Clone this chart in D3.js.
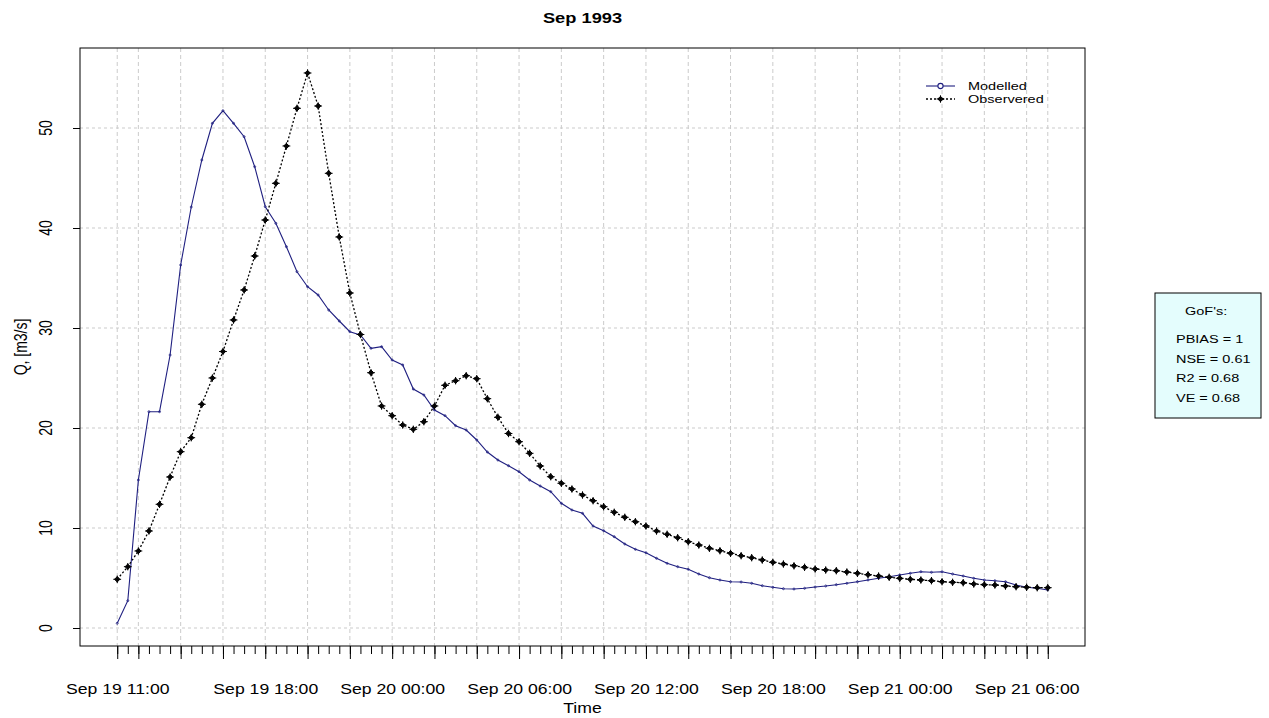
<!DOCTYPE html>
<html>
<head>
<meta charset="utf-8">
<script src="https://cdn.jsdelivr.net/npm/d3@7"></script>
<style>
  html, body { margin: 0; padding: 0; background: #fff; }
  svg { display: block; }
  text { font-family: "Liberation Sans", Arial, Helvetica, sans-serif; fill: #000; }
</style>
</head>
<body>
<svg id="chart" width="1269" height="718"></svg>
<script>
// ---------------- data ----------------
const chartTitle = "Sep 1993";
const seriesNames = ["Modelled", "Observered"];
const startTime = "1993-09-19T11:00";
const stepMinutes = 30;

const modelled = [
  0.47, 2.73, 14.8, 21.63, 21.63, 27.3, 36.3, 42.1, 46.8, 50.47,
  51.73, 50.47, 49.13, 46.13, 42.13, 40.47, 38.13, 35.63, 34.13, 33.3,
  31.8, 30.7, 29.63, 29.3, 27.97, 28.13, 26.8, 26.3, 23.9, 23.3,
  21.8, 21.23, 20.23, 19.8, 18.8, 17.6, 16.8, 16.23, 15.63, 14.8,
  14.2, 13.63, 12.47, 11.8, 11.47, 10.2, 9.73, 9.13, 8.4, 7.87,
  7.53, 6.97, 6.47, 6.13, 5.87, 5.4, 5.03, 4.8, 4.63, 4.6,
  4.47, 4.23, 4.07, 3.93, 3.9, 3.97, 4.1, 4.2, 4.33, 4.47,
  4.63, 4.8, 4.97, 5.13, 5.3, 5.47, 5.63, 5.57, 5.63, 5.4,
  5.2, 4.97, 4.8, 4.73, 4.63, 4.3, 4.07, 3.97, 3.8
];

const observed = [
  4.87, 6.13, 7.7, 9.7, 12.37, 15.1, 17.63, 19.03, 22.37, 25.0,
  27.65, 30.8, 33.8, 37.2, 40.8, 44.47, 48.2, 51.97, 55.5, 52.2,
  45.47, 39.1, 33.5, 29.35, 25.53, 22.2, 21.23, 20.3, 19.87, 20.63,
  22.2, 24.27, 24.73, 25.23, 24.93, 22.93, 21.07, 19.45, 18.63, 17.47,
  16.2, 15.13, 14.47, 13.9, 13.3, 12.73, 12.13, 11.57, 11.07, 10.63,
  10.2, 9.7, 9.37, 9.03, 8.63, 8.3, 7.97, 7.73, 7.47, 7.23,
  7.03, 6.8, 6.57, 6.4, 6.22, 6.07, 5.9, 5.8, 5.73, 5.6,
  5.47, 5.33, 5.2, 5.07, 4.97, 4.87, 4.8, 4.73, 4.63, 4.57,
  4.53, 4.4, 4.33, 4.3, 4.2, 4.13, 4.07, 4.03, 4.03
];

const yTicks = [0, 10, 20, 30, 40, 50];
const xLabelTicks = [
  "1993-09-19T11:00", "1993-09-19T18:00", "1993-09-20T00:00", "1993-09-20T06:00",
  "1993-09-20T12:00", "1993-09-20T18:00", "1993-09-21T00:00", "1993-09-21T06:00"
];
const gofLabels = ["PBIAS = 1", "NSE = 0.61", "R2 = 0.68", "VE = 0.68"];

// ---------------- layout ----------------
const SX = 1.26; // horizontal stretch of glyphs, as in the reference image
const M = { left: 80, right: 1085, top: 48, bottom: 646 };
const parse = d3.utcParse("%Y-%m-%dT%H:%M");
const fmt = d3.utcFormat("%b %d %H:%M");

const t0 = parse(startTime);
const times = observed.map((_, i) => d3.utcMinute.offset(t0, i * stepMinutes));
const tEnd = times[times.length - 1];
const spanMs = tEnd - t0;
const padMs = spanMs * 0.04;

const x = d3.scaleUtc()
  .domain([new Date(+t0 - padMs), new Date(+tEnd + padMs)])
  .range([M.left, M.right]);
const y = d3.scaleLinear().domain([-1.8, 58]).range([M.bottom, M.top]);

const svg = d3.select("#chart");
svg.append("rect").attr("width", 1269).attr("height", 718).attr("fill", "#fff");

function stext(parent, px, py, str, o = {}) {
  const tr = `translate(${px},${py}) scale(${SX},1)` + (o.rotate ? ` rotate(${o.rotate})` : "");
  return parent.append("text")
    .attr("transform", tr)
    .attr("font-size", o.size || 14)
    .attr("font-weight", o.weight || "normal")
    .attr("text-anchor", o.anchor || "middle")
    .attr("dy", "0.35em")
    .text(str);
}

// major ticks: start, every 2h, end
const majorTicks = [t0]
  .concat(d3.utcHour.every(2).range(d3.utcHour.offset(t0, 1), tEnd))
  .concat([tEnd]);

// ---------------- grid ----------------
const grid = svg.append("g");
grid.selectAll("line.v").data(majorTicks).join("line")
  .attr("x1", d => x(d)).attr("x2", d => x(d))
  .attr("y1", M.top).attr("y2", M.bottom)
  .attr("stroke", "#cbcbcb").attr("stroke-width", 1).attr("stroke-dasharray", "4,3");
grid.selectAll("line.h").data(yTicks).join("line")
  .attr("x1", M.left).attr("x2", M.right)
  .attr("y1", d => y(d)).attr("y2", d => y(d))
  .attr("stroke", "#cbcbcb").attr("stroke-width", 1).attr("stroke-dasharray", "3,3");

// ---------------- axes ----------------
const xMinor = svg.append("g").attr("transform", `translate(0,${M.bottom})`)
  .call(d3.axisBottom(x).tickValues(times).tickSize(8).tickFormat(""));
const labelSet = new Set(xLabelTicks.map(s => +parse(s)));
const xMajor = svg.append("g").attr("transform", `translate(0,${M.bottom})`)
  .call(d3.axisBottom(x).tickValues(majorTicks).tickSize(13)
    .tickFormat(d => labelSet.has(+d) ? fmt(d) : ""));
[xMinor, xMajor].forEach(g => {
  g.select(".domain").remove();
  g.selectAll(".tick line").attr("stroke", "#000");
});
xMajor.selectAll(".tick text")
  .attr("font-size", 14)
  .attr("font-family", "Liberation Sans, Arial, sans-serif")
  .attr("y", 0).attr("dy", "0.35em")
  .attr("transform", `translate(0,43) scale(${SX},1)`);

// y axis ticks
const yAx = svg.append("g").attr("transform", `translate(${M.left},0)`)
  .call(d3.axisLeft(y).tickValues(yTicks).tickSize(7).tickFormat(""));
yAx.select(".domain").remove();
yAx.selectAll(".tick line").attr("stroke", "#000");
yTicks.forEach(v => stext(svg, 46, y(v), String(v), { size: 14, rotate: -90 }));

// box
svg.append("rect")
  .attr("x", M.left).attr("y", M.top)
  .attr("width", M.right - M.left).attr("height", M.bottom - M.top)
  .attr("fill", "none").attr("stroke", "#000").attr("stroke-width", 1);

// titles
stext(svg, (M.left + M.right) / 2, 18, chartTitle, { size: 14.5, weight: "bold" });
stext(svg, (M.left + M.right) / 2, 708, "Time", { size: 14 });
stext(svg, 21, (M.top + M.bottom) / 2, "Q, [m3/s]", { size: 14, rotate: -90 });

// ---------------- series ----------------
const modColor = "#1f1f80";
const line = d3.line().x((d, i) => x(times[i])).y(d => y(d));

svg.append("path").datum(modelled)
  .attr("d", line).attr("fill", "none")
  .attr("stroke", modColor).attr("stroke-width", 1.1);
svg.append("g").selectAll("circle").data(modelled).join("circle")
  .attr("cx", (d, i) => x(times[i])).attr("cy", d => y(d)).attr("r", 1)
  .attr("fill", "none").attr("stroke", modColor).attr("stroke-width", 0.8);

svg.append("path").datum(observed)
  .attr("d", line).attr("fill", "none")
  .attr("stroke", "#000").attr("stroke-width", 1.3).attr("stroke-dasharray", "2,2");

const diamondPlus = "M0,-2.7L2.7,0L0,2.7L-2.7,0Z M-3.9,0H3.9 M0,-3.7V3.7";
svg.append("g").selectAll("path").data(observed).join("path")
  .attr("transform", (d, i) => `translate(${x(times[i])},${y(d)})`)
  .attr("d", diamondPlus)
  .attr("fill", "#111").attr("stroke", "#000").attr("stroke-width", 1);

// ---------------- legend ----------------
const lg = svg.append("g");
lg.append("line").attr("x1", 926).attr("x2", 955).attr("y1", 86).attr("y2", 86)
  .attr("stroke", modColor).attr("stroke-width", 1.1);
lg.append("circle").attr("cx", 940.5).attr("cy", 86).attr("r", 2.6)
  .attr("fill", "#fff").attr("stroke", modColor).attr("stroke-width", 1.1);
lg.append("line").attr("x1", 926).attr("x2", 955).attr("y1", 99).attr("y2", 99)
  .attr("stroke", "#000").attr("stroke-width", 1.3).attr("stroke-dasharray", "2,2");
lg.append("path").attr("transform", "translate(940.5,99)").attr("d", diamondPlus)
  .attr("fill", "#111").attr("stroke", "#000").attr("stroke-width", 1);
stext(lg, 968, 86, seriesNames[0], { size: 11.5, anchor: "start" });
stext(lg, 968, 99, seriesNames[1], { size: 11.5, anchor: "start" });

// ---------------- GoF box ----------------
const gb = svg.append("g");
gb.append("rect").attr("x", 1155).attr("y", 293).attr("width", 106).attr("height", 125)
  .attr("fill", "#e4fdfd").attr("stroke", "#000").attr("stroke-width", 1);
stext(gb, 1185, 311, "GoF's:", { size: 11.5, anchor: "start" });
gofLabels.forEach((s, i) => stext(gb, 1176, 339 + i * 19.5, s, { size: 11.5, anchor: "start" }));
</script>
</body>
</html>
